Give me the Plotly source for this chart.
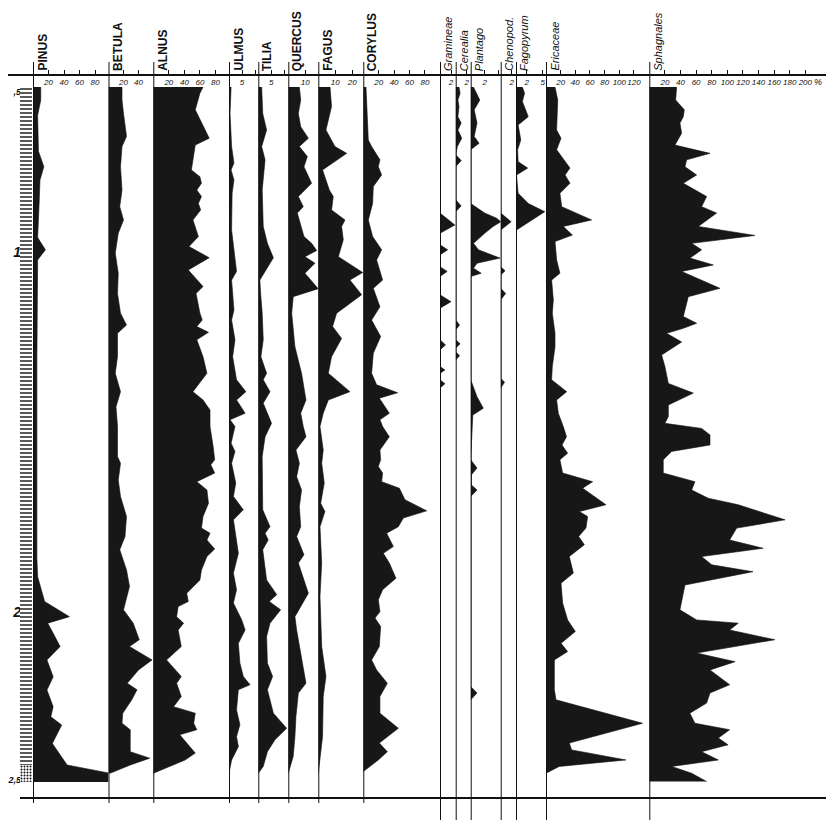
import plotly.graph_objects as go

# ---------------- data (depth in cm, values in %) ----------------
PINUS_D = [54.2, 57.8, 62, 72, 76.3, 80, 86, 91.1, 96, 99.4, 102.2, 130, 160, 185, 190.2, 193, 197.1, 201.3,
           203.1, 205.9, 209.6, 213.3, 218, 221.7, 226.3, 229.1, 231.4, 236.5, 242.5, 244.7, 247.2]
PINUS_V = [10, 10, 6, 7, 14, 9, 8, 7, 6, 16, 6, 5, 5, 5, 6, 10, 15, 47,
           19, 26, 35, 18, 26, 18, 26, 23, 37, 25, 44, 97, 97]

BETULA_D = [54.2, 57.8, 61.5, 67.9, 70.7, 76.3, 82.8, 87.4, 91.1, 94.8, 100.3, 105.9, 111.5, 117, 120.3, 122.6,
            129, 133.7, 138.8, 143, 148.5, 156.8, 158.7, 163.3, 167.9, 173.5, 179, 182.7, 188.3, 192.9, 199.4,
            203.1, 207.7, 209.6, 213.3, 216.1, 219.8, 221.6, 224.4, 228.1, 230.9, 232.7, 238.8, 240.6, 242.5, 244.8]
BETULA_V = [18, 18, 20, 24, 18, 16, 18, 15, 20, 13, 9, 13, 12, 16, 24, 12,
            12, 9, 16, 10, 12, 12, 16, 13, 16, 24, 22, 15, 24, 28, 20,
            33, 41, 28, 58, 40, 25, 38, 31, 19, 18, 29, 29, 55, 29, 2]

ALNUS_D = [54.2, 55.9, 60.5, 64.2, 68.4, 70.3, 73.5, 77.2, 79.1, 80.9, 82.8, 84.6, 86.5, 88.3, 91.1, 95.7, 98.5,
           101.6, 105, 109.6, 111.5, 117, 118.9, 120.7, 122.3, 124.4, 129.1, 133.7, 138.8, 141.1, 143.9, 148.5,
           154, 157.7, 159.1, 161.4, 163.8, 166.1, 169.8, 173.5, 176.7, 178.1, 180, 182.5, 184.6, 188.3, 191.1,
           194.8, 197.1, 198.5, 201.3, 203.1, 205, 209.6, 213.3, 217.9, 219.8, 223.5, 226.3, 228.1, 230.9, 232.7,
           234.1, 236.4, 239.2, 241.1, 244.8]
ALNUS_V = [64, 60, 54, 62, 72, 54, 52, 49, 60, 62, 56, 62, 58, 61, 51, 58, 46,
           72, 45, 64, 55, 60, 63, 56, 71, 56, 64, 69, 51, 64, 73, 73,
           77, 79, 74, 79, 56, 69, 71, 64, 62, 73, 69, 79, 69, 62, 60,
           43, 45, 32, 30, 39, 32, 36, 17, 36, 30, 36, 26, 54, 52, 56,
           34, 43, 54, 41, 0]

ULMUS_D = [54.2, 61.5, 70.7, 75.3, 77.2, 80, 83.7, 93.9, 105.4, 107.8, 116.1, 118.9, 124.4, 129.1, 135.5, 138.8,
           141.1, 144.8, 146.6, 148.5, 153.1, 155.4, 158.7, 164.2, 167.9, 171.6, 174.4, 183.7, 189.2, 193.8, 197.5,
           202.2, 205, 208.7, 214.2, 217.9, 220.2, 221.6, 227.2, 231.3, 234.6, 237.4, 241.1, 244.8]
ULMUS_V = [0.8, 0.4, 1, 1.9, 0.8, 1.9, 1.2, 1, 2.9, 1, 1.9, 1, 2.3, 1.4, 2.9, 6.5,
           2.9, 6.2, 0.4, 2.3, 0.8, 2.3, 1, 2.6, 1.7, 5.5, 1.7, 3.6, 1.7, 2.9, 1.7,
           4.9, 6.2, 3.6, 4.2, 5.5, 8.1, 3.6, 2.9, 4.2, 2.9, 3.6, 1, 0]

TILIA_D = [54.2, 61.5, 66.1, 70.7, 74.4, 82.8, 92.9, 97.6, 101.6, 107.8, 111.5, 117, 124.4, 129.1, 133.7, 135.5,
           138.8, 142, 147.6, 151.3, 156.8, 164.2, 171.6, 176.3, 178.1, 180, 182.7, 191.1, 195.2, 197.1, 199.4,
           203.1, 206.8, 214.2, 217.9, 221.6, 228.1, 232.3, 235.5, 238.8, 242.9, 244.8]
TILIA_V = [1.3, 1.7, 3.2, 1.3, 2.6, 1.5, 1.9, 3.5, 5.8, 0.6, 0.9, 1.5, 1.9, 1, 3.2, 1.9,
           4.5, 1.9, 5.1, 2.6, 1.5, 1.7, 1.7, 4.5, 2.6, 3.8, 1.7, 3.2, 7.1, 4.2, 8.6,
           4.5, 3.2, 3.5, 5.5, 3.5, 5.8, 10.9, 6.4, 3.5, 1.9, 0]

QUERCUS_D = [54.2, 57.8, 61.5, 65.2, 68.4, 70.7, 73.5, 76.3, 80.9, 84.6, 87.4, 89.2, 95.7, 97.6, 99.6, 101.3,
             103.1, 105.9, 110.2, 112.4, 117, 126.3, 133.7, 141.1, 144.8, 148.5, 151.3, 155, 158.7, 162.4, 166.1,
             170.7, 176.3, 179, 184.1, 186.4, 194.8, 201.3, 205, 212.4, 219.8, 222.5, 229, 234.6, 240.1, 244.8]
QUERCUS_V = [6.5, 7.3, 5.9, 7.3, 11.8, 6.5, 11.2, 9.2, 13.7, 5.9, 8.8, 5.3, 9.2, 13.7, 16.7, 9.8,
             15.7, 9.8, 17.6, 2.9, 2, 3.9, 7.8, 10.4, 7.3, 8.8, 10.4, 4.5, 6.5, 4.9, 7.8,
             6.5, 7.3, 4.9, 9.2, 5.9, 11.8, 3.9, 4.9, 7.8, 10.4, 5.9, 4.5, 3.9, 2.9, 0]

FAGUS_D = [54.2, 59.6, 66.1, 70.7, 72.6, 77.2, 82.8, 84.6, 88.3, 91.1, 92.9, 96.6, 101.3, 105.7, 107.8, 111.9,
           117, 120.7, 124, 129.1, 133.7, 138.8, 141.1, 144.8, 148.5, 151.3, 155, 158.7, 164.2, 169.8, 172.1,
           176.3, 186.4, 195.7, 209.6, 217.9, 223.5, 234.6, 240.1, 244.8]
FAGUS_V = [6.9, 7.8, 4.5, 9.8, 16.7, 2.5, 6.5, 8.8, 7.8, 15.7, 13.7, 14.7, 11.8, 26.1, 18.6, 25.5,
           10.8, 8.4, 13.7, 7.8, 5.9, 18.6, 5.9, 2.9, 1, 2, 2.9, 2, 3.5, 1.4, 3.9,
           1, 2, 1, 2, 4.5, 2.9, 2.5, 1, 0]

CORYLUS_D = [54.2, 61.5, 68.9, 70.7, 74.4, 76.3, 78.6, 81.8, 86.5, 91.1, 95.7, 99.4, 102.2, 107.8, 110.1, 115.2,
             118.9, 123.5, 128.1, 133.7, 136.9, 139.1, 140.6, 144.8, 146.6, 148.5, 151.3, 155, 157.7, 159.6, 161.4,
             163.8, 165.6, 168.8, 171.9, 173.9, 176.3, 178.1, 181.8, 183.7, 186.4, 190.6, 193.8, 196.6, 199.9,
             201.7, 204, 209.6, 213.3, 216.1, 219.8, 223.5, 228.1, 232.3, 236.4, 238.8, 241.1, 244.3]
CORYLUS_V = [3.5, 5.2, 6.5, 10.8, 21.6, 19.5, 23.8, 13, 12.1, 6.5, 12.1, 23.8, 17.3, 25.1, 13, 21.6,
             10.8, 22.5, 13, 10.8, 17.3, 44.6, 20.8, 33.8, 21.6, 25.1, 33.8, 21.6, 22.5, 19.5, 25.1,
             23.8, 46.8, 54.1, 82.3, 52, 45.5, 30.3, 39, 26, 33.8, 42.4, 25.1, 19.5, 21.6,
             15.2, 22.5, 20.8, 10.8, 17.3, 31.2, 21.6, 21.6, 45.5, 20.8, 31.2, 19.5, 0]

GRAMINEAE_D = [89.2, 92.5, 94.8, 98, 99.4, 100.8, 104.1, 105.4, 106.8, 111.9, 113.8, 115.6, 124.4, 125.8, 127.2,
               131.8, 132.8, 133.7, 135.5, 136.6, 137.8]
GRAMINEAE_V = [0, 2.7, 0, 0, 1.4, 0, 0, 1.3, 0, 0, 2, 0, 0, 1, 0, 0, 0.9, 0, 0, 0.9, 0]

CEREALIA_D = [54.2, 55.9, 57.8, 59.6, 62.4, 64.2, 66.1, 68.4, 70.7, 73, 74.6, 76.3, 85.5, 87.2, 88.8, 118.9,
              120.3, 121.6, 124.4, 125.5, 126.7, 127.7, 128.8, 130]
CEREALIA_V = [0.6, 0.8, 0.4, 0.6, 0.4, 1.0, 0.4, 1.1, 0.3, 0, 1.0, 0, 0, 1.0, 0, 0,
              0.7, 0, 0, 0.8, 0, 0, 0.7, 0]

PLANTAGO_D = [54.2, 57.8, 60.5, 64.2, 67.9, 69.8, 71.6, 86.5, 89.2, 90.6, 91.6, 92.9, 94.8, 97.6, 99.4, 101.7,
              103.1, 104.5, 105.9, 106.8, 135.5, 140.2, 143.4, 145.3, 149.4, 157.7, 160, 161.9, 164.7, 166.1,
              167.9, 220.7, 222.5, 224.4]
PLANTAGO_V = [0.4, 1.3, 0.5, 0.9, 0.5, 1.2, 0, 0, 2, 3.7, 4.3, 3.2, 2, 0.4, 1.1, 4.2,
              0.9, 0.4, 1.5, 0, 0, 0.9, 1.8, 0.3, 0.2, 0, 0.9, 0.1, 0.1, 0.9,
              0, 0, 0.9, 0]

CHENOPOD_D = [89.2, 91.6, 93.9, 104.1, 105.2, 106.4, 110.1, 111.5, 113.3, 135.1, 136.2, 137.8]
CHENOPOD_V = [0, 1.9, 0, 0, 0.8, 0, 0, 0.9, 0, 0, 0.7, 0]

FAGOPYRUM_D = [54.2, 55.9, 58.2, 61, 62.4, 64.7, 68.9, 71.6, 74.9, 76.7, 78.6, 83.7, 86.5, 88.8, 91.1, 93.9, 95.7]
FAGOPYRUM_V = [1.2, 1.6, 1.2, 2, 2.3, 0.4, 0.9, 0.3, 0.4, 2.2, 0.1, 0.4, 2.3, 5.4, 2.9, 0.1, 0]

ERICACEAE_D = [54.2, 57.8, 66.1, 68.4, 71.6, 74, 76.7, 78.6, 80.9, 83.7, 87.4, 91.1, 92.9, 95.3, 97.1, 102.2,
               105.9, 107.8, 113.3, 117, 122.6, 126.3, 131.8, 135.5, 138.8, 141.1, 144.8, 148.5, 151.3, 153.6,
               155.9, 157.7, 161.4, 163.8, 165.6, 170.2, 172.1, 173.5, 176.7, 179, 181.3, 184.6, 189.2, 192,
               197.5, 202.2, 205.4, 208.7, 211, 213.3, 221.6, 224.4, 230.9, 236.4, 238.3, 241.1, 242.9, 244.8]
ERICACEAE_V = [12.3, 16, 14.5, 20.5, 14.5, 23.6, 32.7, 26, 32.7, 19, 21.4, 62.3, 23.6, 36, 12.3, 14.5,
               19, 7.7, 10, 8.6, 12.3, 12.3, 8.6, 7.7, 28.2, 14.5, 16.8, 23.6, 28, 21.8,
               29.5, 19, 22.7, 63.6, 50, 81.8, 45.5, 56.8, 54.5, 44.5, 52.3, 31.8, 37.3, 20.5,
               22.7, 29.5, 40, 20.5, 29.5, 11.4, 11.4, 13.6, 131.8, 31.8, 35, 109, 18, 0]

SPHAGNALES_D = [54.2, 57.8, 60.5, 62.4, 64.2, 67, 70.3, 72.6, 74.4, 76.3, 78.6, 80.9, 84.6, 87.4, 89.2, 92.9,
                95.4, 97.6, 99.4, 101.7, 103.6, 105.4, 110.1, 112.4, 116.1, 117.9, 119.8, 121.2, 122.6, 125,
                128.6, 131.8, 136.5, 139.2, 142.5, 145.7, 147.6, 149, 150.8, 153.6, 155.4, 157.7, 161.4, 163.8,
                166.1, 168.4, 170.2, 174.4, 176.7, 180, 182.3, 184.6, 186.9, 188.8, 192.5, 199.4, 202.2, 203.1,
                205, 207.7, 211.4, 213.8, 216.1, 220.2, 222.5, 225.3, 228.1, 230.9, 232.7, 235, 236.9, 238.8,
                241.1, 242.9, 244.8, 247.1]
SPHAGNALES_V = [35, 33.8, 44.9, 43.6, 39.3, 41.5, 32.9, 77.8, 47.9, 45.7, 60.7, 43.6, 73.5, 67.1, 86.3, 62.8,
                135.5, 54.3, 67.1, 52.1, 82.1, 41.5, 90.6, 50, 45.7, 43.6, 60.7, 43.6, 22.2, 41.5,
                15.8, 20, 24.4, 56.4, 24.4, 24.4, 20, 67.1, 77.8, 77.8, 28.6, 17.9, 17.9, 58.5,
                54.3, 75.6, 114, 174, 112, 103, 146, 67, 80, 133, 45.7, 39.3, 60.7, 114,
                103, 161, 60.7, 110, 77.8, 103, 77.8, 73.5, 52, 58.5, 103, 88.5, 101, 67,
                88.5, 28.6, 54.3, 73.5]

# lithology units (top cm, bottom cm, symbol)
LITHO_TOP = [54.2, 242.5]
LITHO_BOTTOM = [242.5, 247.2]
LITHO_SYMBOL = ["-", "."]

DEPTH_TICKS = [55, 100, 200, 246]
DEPTH_LABELS = ["<span style='font-size:9px'>,5</span>", "1", "2", "<span style='font-size:9px'>2,5</span>"]

# ---------------- layout helpers ----------------
# the page body keeps its default 8 px margin, so the figure is drawn 8 px in from the window edge
PAGE_OFFSET = 8
W, H = 834 - PAGE_OFFSET, 832 - PAGE_OFFSET
def xd(px):
    return (px - PAGE_OFFSET) / W
def yd(py):
    return 1 - (py - PAGE_OFFSET) / H

TOP_PX, BOT_PX = 75, 798
# depth scale of the drawing: 1 m at 252 px, 2 m at 612 px
def depth_at(py):
    return 100 + (py - 252) / 3.6

columns = [
    ("PINUS", PINUS_D, PINUS_V, 33, 108.5, 0.775, [20, 40, 60, 80], False),
    ("BETULA", BETULA_D, BETULA_V, 108.5, 153.3, 0.75, [20, 40], False),
    ("ALNUS", ALNUS_D, ALNUS_V, 153.3, 229, 0.777, [20, 40, 60, 80], False),
    ("ULMUS", ULMUS_D, ULMUS_V, 229, 258.3, 2.6, [5, 10], False),
    ("TILIA", TILIA_D, TILIA_V, 258.3, 288.3, 2.6, [5, 10], False),
    ("QUERCUS", QUERCUS_D, QUERCUS_V, 288.3, 318.3, 1.7, [10], False),
    ("FAGUS", FAGUS_D, FAGUS_V, 318.3, 363.3, 1.7, [10, 20], False),
    ("CORYLUS", CORYLUS_D, CORYLUS_V, 363.3, 440, 0.77, [20, 40, 60, 80], False),
    ("Gramineae", GRAMINEAE_D, GRAMINEAE_V, 440, 455.7, 5.5, [2], True),
    ("Cerealia", CEREALIA_D, CEREALIA_V, 455.7, 470.7, 5.5, [2], True),
    ("Plantago", PLANTAGO_D, PLANTAGO_V, 470.7, 500.7, 7.0, [2, 4], True),
    ("Chenopod.", CHENOPOD_D, CHENOPOD_V, 500.7, 516, 5.5, [2], True),
    ("Fagopyrum", FAGOPYRUM_D, FAGOPYRUM_V, 516, 546, 5.33, [2, 5], True),
    ("Ericaceae", ERICACEAE_D, ERICACEAE_V, 546, 649.3, 0.733, [20, 40, 60, 80, 100, 120], True),
    ("Sphagnales", SPHAGNALES_D, SPHAGNALES_V, 649.3, 830, 0.78,
     [20, 40, 60, 80, 100, 120, 140, 160, 180, 200], True),
]

FONT = "Liberation Sans"
INK = "#111111"
FILL = "#171717"

fig = go.Figure()
layout_axes = {}
shapes = []
annotations = []

for i, (name, D, V, x0, x1, scale, tvals, herb) in enumerate(columns, start=1):
    if len(D) != len(V):
        raise ValueError(f"{name}: {len(D)} depths vs {len(V)} values")
    ax = "x" if i == 1 else f"x{i}"
    fig.add_trace(go.Scatter(
        x=V, y=D, xaxis=ax, yaxis="y", mode="lines",
        line=dict(color=INK, width=0.6), fill="tozerox", fillcolor=FILL,
        hoverinfo="skip", showlegend=False))
    layout_axes["xaxis" if i == 1 else f"xaxis{i}"] = dict(
        domain=[xd(x0), xd(x1)], range=[0, (x1 - x0) / scale], anchor="y", side="top",
        automargin=False,
        showgrid=False, zeroline=False, showline=False,
        ticks="outside", ticklen=4, tickwidth=1, tickcolor=INK,
        tickvals=tvals, ticktext=[str(v) for v in tvals], tickangle=0,
        ticklabelposition="inside", ticklabelstandoff=1,
        tickfont=dict(family=FONT, size=8, color=INK, style="italic"),
        fixedrange=True)
    # baseline line of the column (extends above the top frame and below the bottom frame)
    shapes.append(dict(type="line", xref=ax, x0=0, x1=0, yref="paper",
                       y0=yd(820 if herb else 803), y1=yd(62),
                       line=dict(color=INK, width=2)))
    # taxon name
    if herb:
        annotations.append(dict(
            text=name, xref="paper", yref="paper", x=xd(x0 + 8), y=yd(73),
            xanchor="center", yanchor="bottom", textangle=-90, showarrow=False,
            font=dict(family=FONT, size=11, color=INK, style="italic")))
    else:
        annotations.append(dict(
            text=f"<b>{name}</b>", xref="paper", yref="paper", x=xd(x0 + 9), y=yd(73),
            xanchor="center", yanchor="bottom", textangle=-90, showarrow=False,
            font=dict(family=FONT, size=12, color=INK)))

# lithology column
lith_ax = f"x{len(columns) + 1}"
layout_axes[f"xaxis{len(columns) + 1}"] = dict(domain=[xd(20), xd(32)], range=[0, 1], anchor="y",
                                               visible=False, fixedrange=True, automargin=False)
for top, bot, sym in zip(LITHO_TOP, LITHO_BOTTOM, LITHO_SYMBOL):
    fig.add_trace(go.Scatter(
        x=[0, 1, 1, 0, 0], y=[top, top, bot, bot, top], xaxis=lith_ax, yaxis="y",
        mode="lines", line=dict(width=0), fill="toself", fillcolor="white",
        fillpattern=dict(shape=sym, size=4 if sym == "-" else 3, solidity=0.35, fgcolor=INK, bgcolor="white"),
        hoverinfo="skip", showlegend=False))

# frame lines
shapes.append(dict(type="line", xref="paper", yref="paper", x0=xd(7), x1=xd(831),
                   y0=yd(TOP_PX), y1=yd(TOP_PX), line=dict(color=INK, width=2)))
shapes.append(dict(type="line", xref="paper", yref="paper", x0=xd(20), x1=xd(831),
                   y0=yd(BOT_PX), y1=yd(BOT_PX), line=dict(color=INK, width=2)))
shapes.append(dict(type="line", xref=f"x{len(columns)} domain", x0=1, x1=1, yref="paper",
                   y0=yd(BOT_PX), y1=yd(TOP_PX), line=dict(color=INK, width=2)))

annotations.append(dict(text="%", xref=f"x{len(columns)}", x=216, yref="paper", y=yd(82),
                        showarrow=False, xanchor="center", yanchor="middle",
                        font=dict(family=FONT, size=9, color=INK, style="italic")))

fig.update_layout(
    template="none",
    width=W, height=H, margin=dict(l=0, r=0, t=0, b=0, pad=0),
    paper_bgcolor="white", plot_bgcolor="white",
    showlegend=False,
    yaxis=dict(domain=[yd(BOT_PX), yd(TOP_PX)], range=[depth_at(BOT_PX), depth_at(TOP_PX)],
               anchor="free", position=xd(21), side="left", automargin=False,
               showgrid=False, zeroline=False, showline=False, ticks="",
               tickvals=DEPTH_TICKS, ticktext=DEPTH_LABELS,
               tickfont=dict(family=FONT, size=14, color=INK, weight="bold", style="italic"),
               fixedrange=True),
    shapes=shapes, annotations=annotations,
    **layout_axes,
)

fig.write_html("out.html")
